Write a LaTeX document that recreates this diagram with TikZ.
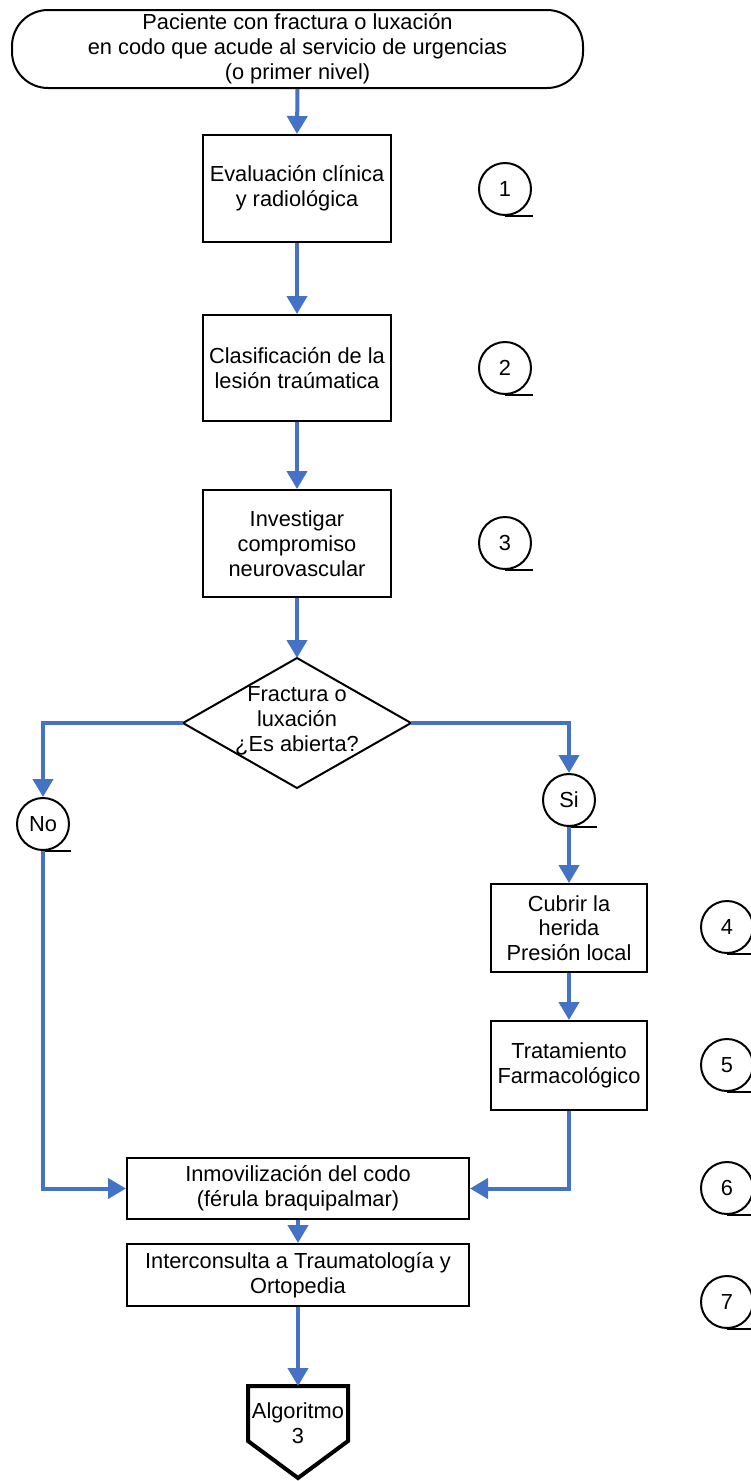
\documentclass[tikz,border=0pt]{standalone}
\usepackage{fontspec}
\setmainfont{Liberation Sans}
\usetikzlibrary{arrows.meta}
\definecolor{flowblue}{RGB}{68,114,196}
\begin{document}
\begin{tikzpicture}[x=1pt,y=-1pt,
  font=\fontsize{21.8}{24.8}\selectfont,
  box/.style={draw=black,line width=2pt,align=center,inner sep=0pt},
  tape/.style={draw=black,line width=2pt,circle,minimum size=52pt,inner sep=0pt},
  tapeline/.style={draw=black,line width=2pt},
  flow/.style={draw=flowblue,line width=4pt,-{Triangle[length=18pt,width=20pt]}},
  flowplain/.style={draw=flowblue,line width=4pt}]
\useasboundingbox (0,0) rectangle (750,1481);

% start terminal
\node[box,rounded corners=36pt,minimum width=571pt,minimum height=78pt] (start) at (297.5,49)
  {Paciente con fractura o luxación\\en codo que acude al servicio de urgencias\\(o primer nivel)};

% process boxes
\node[box,minimum width=188pt,minimum height=107pt] (b1) at (297,188.5) {Evaluación clínica\\y radiológica};
\node[box,minimum width=188pt,minimum height=106pt] (b2) at (297,368) {Clasificación de la\\lesión traúmatica};
\node[box,minimum width=188pt,minimum height=107pt] (b3) at (297,543.5) {Investigar\\compromiso\\neurovascular};

% decision
\coordinate (dT) at (297,658);
\coordinate (dL) at (183,723);
\coordinate (dR) at (411,723);
\coordinate (dB) at (297,788);
\draw[line width=2pt,line join=miter] (dT) -- (dR) -- (dB) -- (dL) -- cycle;
\node[align=center,inner sep=0pt] (dtext) at (297,721) {Fractura o\\luxación\\¿Es abierta?};

% answer markers
\node[tape] (no) at (43,824) {No};
\draw[tapeline] (no.south) -- ++(28,0);
\node[tape] (si) at (569,800) {Si};
\draw[tapeline] (si.south) -- ++(28,0);

\node[box,minimum width=156pt,minimum height=88pt] (b4) at (569,928) {Cubrir la\\herida\\Presión local};
\node[box,minimum width=156pt,minimum height=89pt] (b5) at (569,1065.5) {Tratamiento\\Farmacológico};
\node[box,minimum width=342pt,minimum height=61pt] (b6) at (298,1188.5) {Inmovilización del codo\\(férula braquipalmar)};
\node[box,minimum width=342pt,minimum height=62pt] (b7) at (298,1275) {Interconsulta a Traumatología y\\Ortopedia};

% off-page connector
\coordinate (aTL) at (248,1386);
\coordinate (aTR) at (348,1386);
\coordinate (aR) at (348,1441);
\coordinate (aB) at (298,1478);
\coordinate (aL) at (248,1441);
\coordinate (aN) at (298,1386);
\draw[line width=4pt,line join=miter] (aTL) -- (aTR) -- (aR) -- (aB) -- (aL) -- cycle;
\node[align=center,inner sep=0pt] (alg) at (298,1423) {Algoritmo\\3};

% step reference markers
\node[tape] (r1) at (505,189) {1};
\draw[tapeline] (r1.south) -- ++(28,0);
\node[tape] (r2) at (505,368) {2};
\draw[tapeline] (r2.south) -- ++(28,0);
\node[tape] (r3) at (505,543) {3};
\draw[tapeline] (r3.south) -- ++(28,0);
\node[tape] (r4) at (727,927) {4};
\draw[tapeline] (r4.south) -- ++(28,0);
\node[tape] (r5) at (727,1065) {5};
\draw[tapeline] (r5.south) -- ++(28,0);
\node[tape] (r6) at (727,1188) {6};
\draw[tapeline] (r6.south) -- ++(28,0);
\node[tape] (r7) at (727,1302) {7};
\draw[tapeline] (r7.south) -- ++(28,0);

% connectors
\draw[flow] (start.south) -- (b1.north);
\draw[flow] (b1.south) -- (b2.north);
\draw[flow] (b2.south) -- (b3.north);
\draw[flow] (b3.south) -- (dT);
\draw[flow] (dL) -| (no.north);
\draw[flow] (dR) -| (si.north);
\draw[flow] (si.south) -- (b4.north);
\draw[flow] (b4.south) -- (b5.north);
\draw[flow] (b5.south) |- (b6.east);
\draw[flow] (no.south) |- (b6.west);
\draw[flow] (b6.south) -- (b7.north);
\draw[flow] (b7.south) -- (aN);
\end{tikzpicture}
\end{document}
